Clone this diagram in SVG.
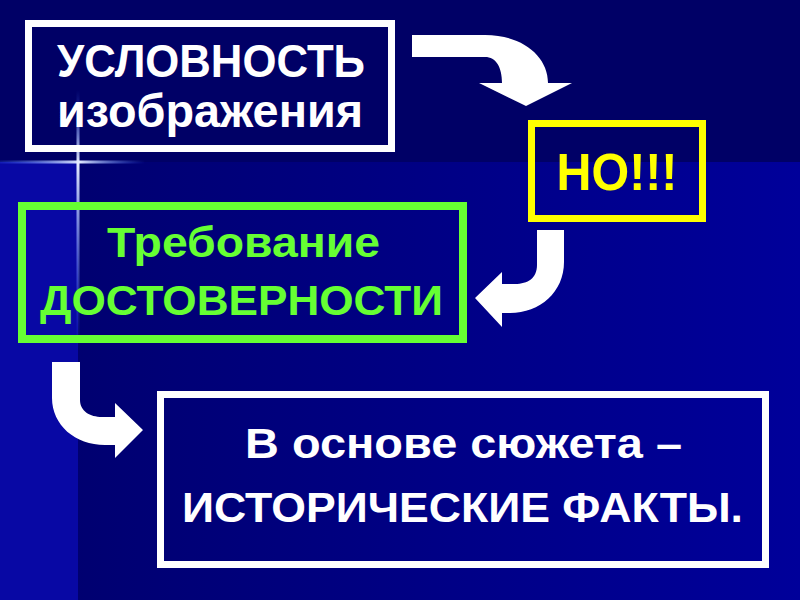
<svg xmlns="http://www.w3.org/2000/svg" width="800" height="600" viewBox="0 0 800 600">
  <defs>
    <linearGradient id="lowerBg" x1="0" y1="0" x2="1" y2="0">
      <stop offset="0" stop-color="#00006c"/>
      <stop offset="1" stop-color="#00009a"/>
    </linearGradient>
    <linearGradient id="hGlow" x1="0" y1="0" x2="1" y2="0">
      <stop offset="0" stop-color="#3a6cff" stop-opacity="0.2"/>
      <stop offset="0.55" stop-color="#dfe8ff" stop-opacity="1"/>
      <stop offset="1" stop-color="#3a6cff" stop-opacity="0"/>
    </linearGradient>
    <linearGradient id="vGlow" x1="0" y1="0" x2="0" y2="1">
      <stop offset="0" stop-color="#3a6cff" stop-opacity="0"/>
      <stop offset="0.28" stop-color="#e6ecff" stop-opacity="1"/>
      <stop offset="1" stop-color="#3a6cff" stop-opacity="0"/>
    </linearGradient>
    <style>
      .box { fill: none; }
      .white { stroke: #ffffff; stroke-width: 7; }
      .yellow { stroke: #ffff00; stroke-width: 7; }
      .green { stroke: #66ff33; stroke-width: 8; }
      .t { font-family: "Liberation Sans", Arial, sans-serif; font-weight: bold; text-anchor: middle; }
      .tw { fill: #ffffff; }
      .ty { fill: #ffff00; }
      .tg { fill: #66ff33; }
      .arrow { fill: #ffffff; }
    </style>
  </defs>

  <!-- background -->
  <rect x="0" y="0" width="800" height="600" fill="url(#lowerBg)"/>
  <rect x="0" y="162" width="78" height="438" fill="#0808a4"/>
  <rect x="0" y="0" width="800" height="162" fill="#000066"/>
  <rect x="0" y="160.5" width="145" height="3" fill="url(#hGlow)"/>
  <rect x="76.5" y="90" width="3" height="260" fill="url(#vGlow)"/>

  <g id="connectors">
    <path class="arrow" d="M412,35 L485,35 C522,35 548,56 548,83 L572,83 L526,106 L479,83 L502,83 C502,67 496,57 485,57 L412,57 Z"/>
    <path class="arrow" d="M537,230 L564,230 L564,262 C564,292 540,313 510,313 L502,313 L502,327 L475,298 L502,272 L502,284 L515,284 C528,284 537,278 537,265 Z"/>
    <path class="arrow" d="M52,362 L80,362 L80,400 C80,411 90,417 102,417 L115,417 L115,403 L143,430 L115,458 L115,445 L105,445 C75,445 52,425 52,398 Z"/>
  </g>

  <g id="node-uslovnost">
    <rect class="box white" x="28.5" y="23.5" width="363" height="125"/>
    <text class="t tw" x="211" y="77" font-size="46" textLength="308" lengthAdjust="spacingAndGlyphs">УСЛОВНОСТЬ</text>
    <text class="t tw" x="210" y="127" font-size="46" textLength="306" lengthAdjust="spacingAndGlyphs">изображения</text>
  </g>

  <g id="node-no">
    <rect class="box yellow" x="531.5" y="123.5" width="171" height="95"/>
    <text class="t ty" x="617" y="190" font-size="51" textLength="121" lengthAdjust="spacingAndGlyphs">НО!!!</text>
  </g>

  <g id="node-trebovanie">
    <rect class="box green" x="22" y="206" width="441" height="133"/>
    <text class="t tg" x="243.5" y="257" font-size="43" textLength="273" lengthAdjust="spacingAndGlyphs">Требование</text>
    <text class="t tg" x="241.5" y="315" font-size="43" textLength="403" lengthAdjust="spacingAndGlyphs">ДОСТОВЕРНОСТИ</text>
  </g>

  <g id="node-fakty">
    <rect class="box white" x="160.5" y="394.5" width="605" height="170"/>
    <text class="t tw" x="463.5" y="458" font-size="43" textLength="437" lengthAdjust="spacingAndGlyphs">В основе сюжета –</text>
    <text class="t tw" x="462.5" y="522" font-size="43" textLength="561" lengthAdjust="spacingAndGlyphs">ИСТОРИЧЕСКИЕ ФАКТЫ.</text>
  </g>
</svg>
